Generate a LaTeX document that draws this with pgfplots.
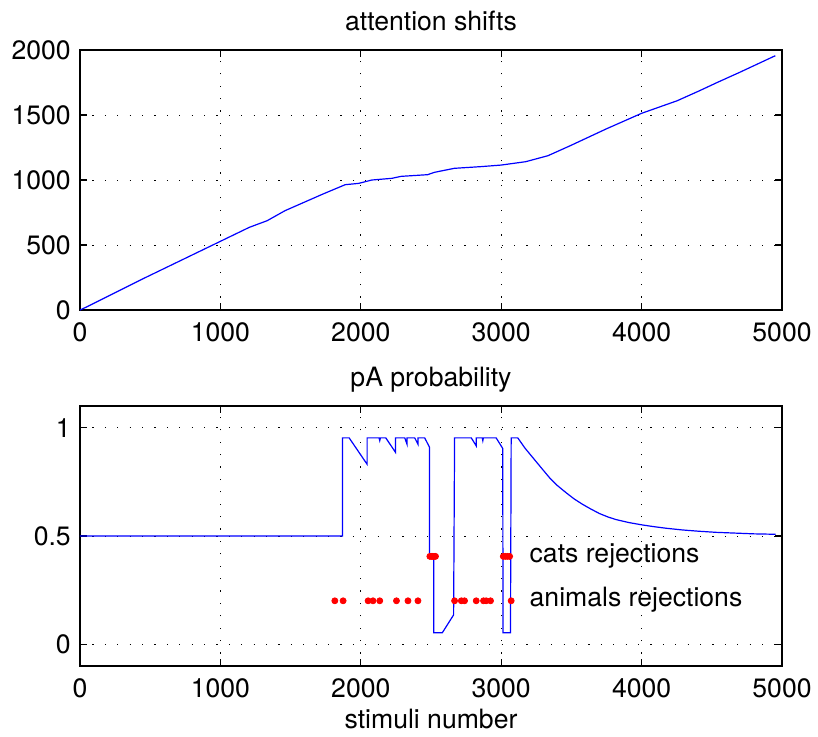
\documentclass[border=0pt]{standalone}
\usepackage{fontspec}
\setmainfont{TeX Gyre Heros}
\usepackage{pgfplots}
\pgfplotsset{compat=1.18}

\begin{document}
\fontsize{13.3pt}{16pt}\selectfont
\begin{tikzpicture}
\useasboundingbox (-40pt,-213pt) rectangle (369pt,155pt);
\pgfplotsset{
  mlab/.style={
    width=351pt, height=130pt, scale only axis,
    xmin=0, xmax=5000,
    xtick={0,1000,2000,3000,4000,5000},
    grid=major,
    major grid style={black, line width=0.5pt, dash pattern=on 0.6pt off 5.6pt},
    tick align=inside, tickpos=both,
    major tick length=3.5pt,
    axis line style={line width=0.8pt},
    every tick/.style={black, line width=0.6pt},
    /pgf/number format/assume math mode=true,
    /pgf/number format/1000 sep={},
    scaled ticks=false,
    xticklabel style={anchor=base, yshift=-15.8pt},
    title style={at={(0.5,1)}, anchor=base, yshift=3.8pt},
    xlabel style={at={(0.5,0)}, anchor=base, yshift=-31pt},
  },
}

% top: attention shifts
\begin{axis}[mlab, at={(0,0)}, anchor=south west,
  ymin=0, ymax=2000, ytick={0,500,1000,1500,2000},
  title={attention shifts}]
\addplot[blue, line width=0.6pt] coordinates {
(0,0)(50,25)(444,238)(984,520)(1206,636)(1333,687)(1460,764)(1730,892)
(1889,964)(1984,974)(2079,1000)(2222,1013)(2286,1028)(2476,1041)(2524,1059)
(2667,1090)(2857,1103)(3000,1115)(3175,1141)(3333,1187)(3492,1264)(3746,1392)
(4000,1513)(4254,1610)(4413,1687)(4540,1751)(4698,1828)(4952,1956)};
\end{axis}

% bottom: pA probability
\begin{axis}[mlab, at={(0,-178pt)}, anchor=south west,
  ymin=-0.1, ymax=1.1, ytick={0,0.5,1},
  title={pA probability}, xlabel={stimuli number}]
\addplot[blue, line width=0.6pt] coordinates {
(0,0.5)(1870,0.5)(1870,0.953)(1917,0.953)(2045,0.831)(2045,0.953)(2130,0.953)
(2135,0.94)(2140,0.953)(2178,0.953)(2247,0.886)(2247,0.953)(2313,0.953)
(2329,0.924)(2329,0.953)(2384,0.953)(2407,0.924)(2407,0.953)(2455,0.953)
(2490,0.909)(2490,0.406)(2519,0.406)(2519,0.054)(2581,0.054)(2661,0.136)
(2668,0.953)(2787,0.953)(2822,0.916)(2822,0.953)(2865,0.953)(2869,0.94)
(2873,0.953)(2964,0.953)(3011,0.904)(3013,0.054)(3066,0.054)(3071,0.953)
(3118,0.953)(3170,0.905)(3225,0.862)(3285,0.815)(3343,0.770)(3400,0.733)
(3462,0.700)(3520,0.671)(3580,0.646)(3640,0.624)(3699,0.604)(3760,0.588)
(3817,0.576)(3910,0.562)(4006,0.551)(4090,0.543)(4173,0.536)(4290,0.528)
(4409,0.522)(4530,0.517)(4646,0.514)(4800,0.510)(4954,0.508)};
% cats rejections
\addplot[only marks, mark=*, mark size=1.5pt, red, mark options={draw=red, fill=red}] coordinates {
(2492,0.406)(2502,0.406)(2512,0.406)(2522,0.406)(2532,0.406)
(3015,0.406)(3030,0.406)(3045,0.406)(3060,0.406)};
% animals rejections
\addplot[only marks, mark=*, mark size=1.5pt, red, mark options={draw=red, fill=red}] coordinates {
(1815,0.201)(1874,0.201)(2052,0.201)(2087,0.201)(2135,0.201)(2254,0.201)
(2336,0.201)(2407,0.201)(2668,0.201)(2716,0.201)(2739,0.201)(2822,0.201)
(2874,0.201)(2893,0.201)(2924,0.201)(3071,0.201)};
\node[anchor=west, inner sep=0pt] at (axis cs:3200,0.41) {cats rejections};
\node[anchor=west, inner sep=0pt] at (axis cs:3200,0.205) {animals rejections};
\end{axis}
\end{tikzpicture}
\end{document}
